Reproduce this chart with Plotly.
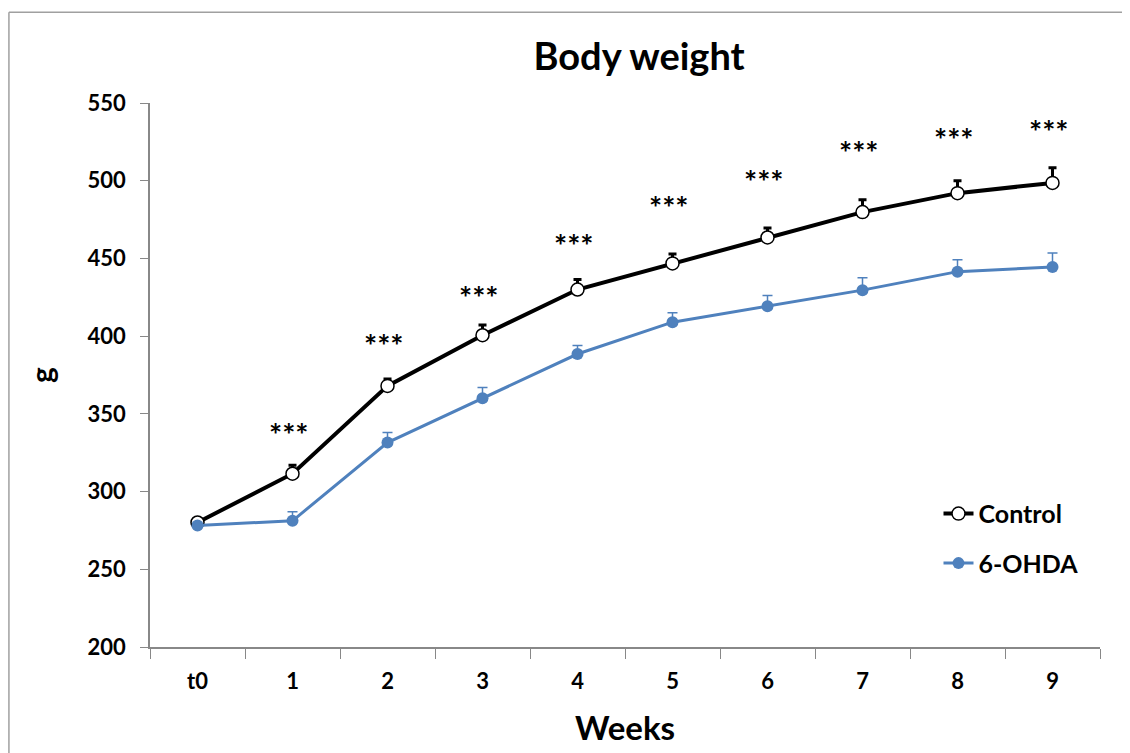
import plotly.graph_objects as go

weeks = ["t0", "1", "2", "3", "4", "5", "6", "7", "8", "9"]
control = [280.1, 311.5, 368.0, 400.6, 430.0, 446.8, 463.5, 479.8, 492.0, 498.6]
control_err = [1.5, 5.5, 4.5, 6.5, 6.5, 6.0, 6.0, 8.0, 8.0, 9.8]
ohda = [278.2, 281.2, 331.5, 360.0, 388.5, 409.0, 419.2, 429.6, 441.5, 444.5]
ohda_err = [1.5, 5.8, 6.5, 7.0, 5.5, 6.0, 7.0, 8.0, 7.7, 9.0]
stars_y = [None, 336.8, 394.5, 425.5, 458.5, 483.3, 499.8, 518.5, 526.8, 532.3]
star_label = "***"

FONT = "Lato"

fig = go.Figure()
fig.add_trace(go.Scatter(
    x=weeks, y=control, name="<b>Control</b>", mode="lines+markers",
    line=dict(color="black", width=4),
    marker=dict(symbol="circle", size=13, color="white", line=dict(color="black", width=1.5)),
    error_y=dict(type="data", array=control_err, symmetric=False,
                 arrayminus=[0] * len(control_err), color="black", thickness=3, width=4),
    legendgroup="a",
))
fig.add_trace(go.Scatter(
    x=weeks, y=ohda, name="<b>6-OHDA</b>", mode="lines+markers",
    line=dict(color="#4F81BD", width=3),
    marker=dict(symbol="circle", size=12, color="#4F81BD"),
    error_y=dict(type="data", array=ohda_err, symmetric=False,
                 arrayminus=[0] * len(ohda_err), color="#4F81BD", thickness=1.5, width=5),
    legendgroup="b",
))

for w, s in zip(weeks, stars_y):
    if s is None:
        continue
    fig.add_annotation(x=w, y=s, text="<b>" + star_label + "</b>", showarrow=False,
                       font=dict(family=FONT, size=31, color="black"),
                       xanchor="center", yanchor="middle", xshift=-4)

# outer chart border (top and left)
fig.add_shape(type="line", xref="paper", yref="paper",
              x0=-0.1485, x1=1.05, y0=1.1667, y1=1.1667,
              line=dict(color="#A0A0A0", width=1.5))
fig.add_shape(type="line", xref="paper", yref="paper",
              x0=-0.1485, x1=-0.1485, y0=-0.2, y1=1.1667,
              line=dict(color="#A0A0A0", width=1.5))

fig.update_layout(
    width=1122, height=745,
    margin=dict(l=142, r=30, t=95, b=104),
    paper_bgcolor="white", plot_bgcolor="white",
    title=dict(text="<b>Body weight</b>", x=0.5625, xanchor="center", y=0.935, yanchor="middle",
               font=dict(family=FONT, size=38, color="black")),
    font=dict(family=FONT, color="black"),
    showlegend=True,
    legend=dict(x=0.83, y=0.287, xanchor="left", yanchor="top",
                font=dict(family=FONT, size=25, color="black"),
                bgcolor="rgba(0,0,0,0)", tracegroupgap=14, traceorder="grouped"),
    xaxis=dict(
        type="category", tickson="boundaries", ticks="outside", ticklen=10,
        tickcolor="#888888", showline=True, linecolor="#888888", linewidth=1.5,
        showgrid=False, zeroline=False,
        tickfont=dict(family=FONT, size=22, color="black"),
        tickprefix="<b>", ticksuffix="</b>", ticklabelstandoff=14,
        title=dict(text="<b>Weeks</b>", font=dict(family=FONT, size=33, color="black"), standoff=24),
        range=[-0.5, 9.5],
    ),
    yaxis=dict(
        range=[200, 550], dtick=50, ticks="outside", ticklen=8,
        tickcolor="#888888", showline=True, linecolor="#888888", linewidth=1.5,
        showgrid=False, zeroline=False,
        tickfont=dict(family=FONT, size=22, color="black"),
        tickprefix="<b>", ticksuffix="</b>", ticklabelstandoff=10,
        title=dict(text="<b>g</b>", font=dict(family=FONT, size=30, color="black"), standoff=25),
    ),
)

fig.write_html("out.html")
